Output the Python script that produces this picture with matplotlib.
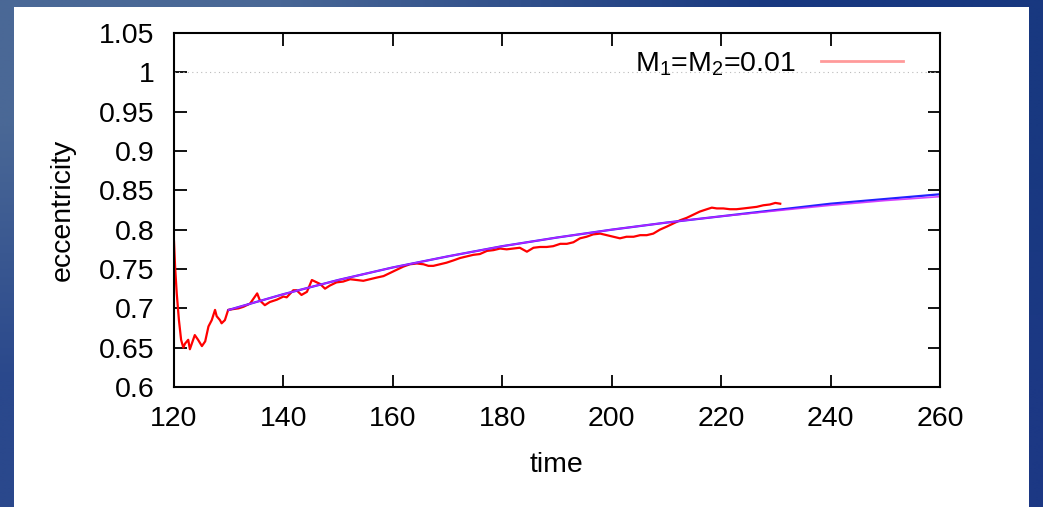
import matplotlib
matplotlib.use("Agg")
import matplotlib.pyplot as plt
import numpy as np
from matplotlib.patches import Rectangle
from matplotlib.lines import Line2D

plt.rcParams['font.family'] = ['Liberation Sans', 'DejaVu Sans']
plt.rcParams['mathtext.default'] = 'regular'

# ---- data ----
sim_time = [120.0, 120.2, 120.5, 120.9, 121.3, 121.7, 122.0, 122.6, 122.9, 123.8, 124.4,
            125.1, 125.7, 126.3, 126.9, 127.5, 127.8, 128.4, 128.7, 129.3, 129.9, 130.8,
            131.8, 132.7, 133.9, 135.2, 135.7, 136.6, 137.5, 138.8, 140.0, 140.6, 141.8,
            142.4, 143.3, 144.3, 145.2, 145.8, 146.7, 147.6, 148.5, 149.7, 150.9, 152.2,
            153.4, 154.6, 155.8, 157.0, 158.3, 159.5, 160.7, 161.9, 163.1, 164.4, 165.6,
            166.5, 167.4, 168.6, 169.8, 171.1, 172.3, 173.5, 174.7, 175.9, 177.2, 178.4,
            179.6, 180.8, 182.0, 183.2, 184.5, 185.7, 186.9, 188.1, 189.3, 190.6, 191.8,
            193.0, 194.2, 195.4, 196.6, 197.9, 199.1, 200.3, 201.5, 202.7, 204.0, 205.2,
            206.4, 207.6, 208.8, 210.1, 211.3, 212.5, 213.7, 214.9, 216.1, 217.4, 218.3,
            219.2, 220.4, 221.6, 222.8, 224.1, 225.3, 226.5, 227.7, 228.9, 229.9, 230.8]
sim_ecc = [0.785, 0.753, 0.719, 0.685, 0.660, 0.650, 0.655, 0.660, 0.648, 0.666, 0.660,
           0.652, 0.658, 0.677, 0.685, 0.698, 0.690, 0.685, 0.681, 0.685, 0.698, 0.699,
           0.700, 0.702, 0.706, 0.719, 0.710, 0.704, 0.708, 0.711, 0.715, 0.714, 0.723,
           0.723, 0.717, 0.721, 0.736, 0.734, 0.731, 0.725, 0.729, 0.733, 0.734, 0.737,
           0.736, 0.735, 0.737, 0.739, 0.741, 0.745, 0.749, 0.753, 0.756, 0.757, 0.756,
           0.754, 0.754, 0.756, 0.758, 0.761, 0.764, 0.766, 0.768, 0.769, 0.773, 0.774,
           0.776, 0.775, 0.776, 0.777, 0.772, 0.777, 0.778, 0.778, 0.779, 0.782, 0.782,
           0.784, 0.789, 0.791, 0.794, 0.795, 0.793, 0.791, 0.789, 0.791, 0.791, 0.793,
           0.793, 0.795, 0.800, 0.804, 0.808, 0.812, 0.815, 0.819, 0.823, 0.826, 0.828,
           0.827, 0.827, 0.826, 0.826, 0.827, 0.828, 0.829, 0.831, 0.832, 0.834, 0.833]

fit_time = [130, 140, 150, 160, 170, 180, 190, 200, 210, 220, 230, 240, 250, 260]
fit_blue = [0.698, 0.718, 0.736, 0.752, 0.766, 0.779, 0.790, 0.800, 0.809, 0.817, 0.825,
            0.833, 0.839, 0.845]
fit_magenta = [0.698, 0.718, 0.736, 0.752, 0.766, 0.779, 0.790, 0.800, 0.809, 0.817, 0.824,
               0.831, 0.837, 0.842]

x_ticks = [120, 140, 160, 180, 200, 220, 240, 260]
y_ticks = [0.6, 0.65, 0.7, 0.75, 0.8, 0.85, 0.9, 0.95, 1.0, 1.05]
y_labels = ['0.6', '0.65', '0.7', '0.75', '0.8', '0.85', '0.9', '0.95', '1', '1.05']
legend_label = 'M$_1$=M$_2$=0.01'

W, H = 1043, 507
FS = 20.5
fig = plt.figure(figsize=(W / 100, H / 100), dpi=100)

# blue gradient background
bg = fig.add_axes([0, 0, 1, 1])
grad = np.array([[[74, 104, 150], [24, 56, 128]],
                 [[42, 72, 140], [28, 56, 132]]], dtype=float) / 255.0
bg.imshow(grad, extent=[0, 1, 0, 1], aspect='auto', interpolation='bilinear', origin='upper')
bg.add_patch(Rectangle((14 / W, 0), (1029 - 14) / W, (507 - 7) / H,
                       facecolor='white', edgecolor='none', transform=bg.transAxes))
bg.set_xlim(0, 1)
bg.set_ylim(0, 1)
bg.axis('off')

left, right, top, bottom = 174 / W, 940 / W, 1 - 33 / H, 1 - 387 / H
ax = fig.add_axes([left, bottom, right - left, top - bottom])
ax.set_facecolor('white')

ax.axhline(1.0, color='#bbbbbb', lw=0.8, ls=(0, (1, 3)))
ax.plot(sim_time, sim_ecc, color='#ff0000', lw=1.6)
ax.plot(fit_time, fit_blue, color='#2222ff', lw=1.6)
ax.plot(fit_time, fit_magenta, color='#cc22ff', lw=1.2, alpha=0.85)

ax.set_xlim(120, 260)
ax.set_ylim(0.6, 1.05)
ax.set_xticks(x_ticks)
ax.set_xticklabels([str(v) for v in x_ticks])
ax.set_yticks(y_ticks)
ax.set_yticklabels(y_labels)
ax.tick_params(direction='in', length=9, width=1.3, top=True, right=True,
               labelsize=FS, colors='black')
ax.tick_params(axis='x', pad=14)
ax.tick_params(axis='y', pad=14)
for s in ax.spines.values():
    s.set_linewidth(1.5)
    s.set_color('black')

ax.set_xlabel('time', fontsize=FS, labelpad=14)
ax.set_ylabel('eccentricity', fontsize=FS, labelpad=17)

handle = Line2D([], [], color='#ff9a9a', lw=2)
ax.legend([handle], [legend_label], loc='center right', bbox_to_anchor=(0.952, 0.913),
          frameon=False, markerfirst=False, handlelength=2.9, fontsize=FS,
          handletextpad=0.85, borderpad=0, borderaxespad=0)

fig.savefig('out.png', dpi=100)
